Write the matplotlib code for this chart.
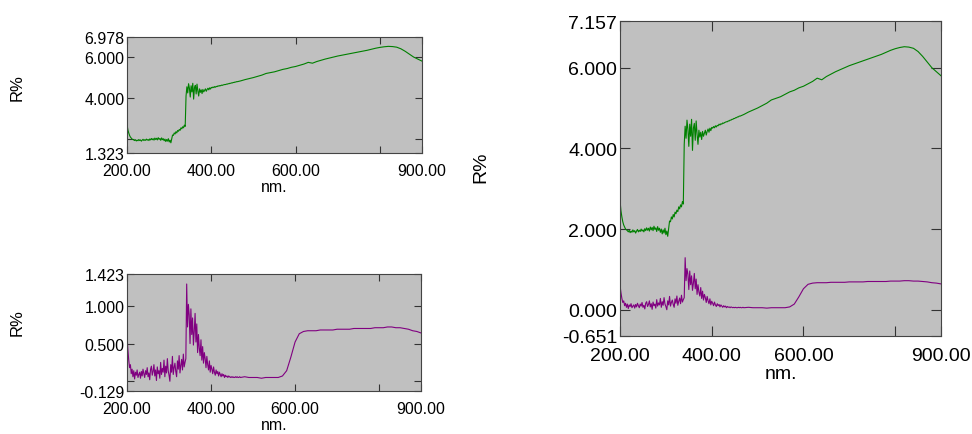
import numpy as np
import matplotlib
matplotlib.use("Agg")
import matplotlib.pyplot as plt

plt.rcParams['font.family'] = ['Liberation Sans', 'DejaVu Sans']

# wavelength grid (nm): fine steps in the noisy UV part, coarser after
wavelength = np.concatenate([np.arange(200, 471, 2), np.arange(480, 901, 10)])

# green curve (R%)
green = [
    2.70, 2.45, 2.30, 2.18, 2.10, 2.05, 2.00, 1.98,
    1.96, 1.93, 1.97, 1.91, 1.95, 1.92, 1.98, 1.93, 1.96, 1.90, 1.95, 1.99,
    1.93, 1.97, 1.94, 2.00, 1.95, 1.98, 1.93, 2.01, 1.96, 2.03, 1.97, 2.02,
    1.95, 2.05, 1.98, 2.04, 1.96, 2.07, 1.99, 2.03, 1.94, 2.06, 1.97, 2.02,
    1.92, 2.00, 1.88, 1.98, 1.90, 2.02, 1.86, 1.95,
    1.82, 2.00, 2.20, 2.18, 2.30, 2.25, 2.36, 2.30, 2.42, 2.38, 2.47, 2.43,
    2.55, 2.50, 2.60, 2.55, 2.68, 2.62,
    4.10, 4.55, 4.25, 4.70, 4.48, 4.05, 4.60, 4.30, 4.72, 3.95, 4.50, 4.62,
    4.20, 4.68, 4.35, 4.10, 4.45, 4.28, 4.40, 4.22, 4.42, 4.30, 4.38, 4.45,
    4.33, 4.42, 4.48, 4.40, 4.50, 4.44, 4.52,
    4.50, 4.54, 4.51, 4.56, 4.53, 4.57, 4.56, 4.60, 4.58, 4.61, 4.60, 4.63,
    4.62, 4.64, 4.65, 4.66, 4.66, 4.68, 4.68, 4.70, 4.70, 4.72, 4.72, 4.74,
    4.74, 4.76, 4.76, 4.78, 4.78, 4.80, 4.80, 4.81, 4.82, 4.83, 4.84,
    4.90, 4.95, 5.00, 5.06, 5.12, 5.20, 5.24, 5.28, 5.34, 5.40, 5.44, 5.50,
    5.54, 5.60, 5.66, 5.74, 5.70, 5.78, 5.84, 5.90, 5.95, 6.00, 6.05, 6.09,
    6.13, 6.17, 6.21, 6.25, 6.29, 6.33, 6.38, 6.43, 6.47, 6.50, 6.52, 6.51,
    6.48, 6.40, 6.28, 6.14, 6.00, 5.90, 5.80,
]

# purple curve (R%)
purple = [
    0.60, 0.42, 0.28, 0.18, 0.22, 0.10, 0.16, 0.06, 0.14, 0.03, 0.12, 0.08,
    0.15, 0.05, 0.09, 0.12, 0.04, 0.13, 0.07, 0.16, 0.10, 0.05, 0.14, 0.09,
    0.18, 0.06, 0.11, 0.02, 0.16, 0.20, 0.08, 0.13, 0.22, 0.07, 0.15, 0.01,
    0.19, 0.10, 0.14, 0.04, 0.25, 0.09, 0.17, 0.12, 0.28, 0.06, 0.20, 0.11,
    0.30, 0.14, 0.08, 0.00, 0.22, 0.12, 0.33, 0.09, 0.18, 0.24, 0.13, 0.06,
    0.27, 0.16, 0.34, 0.11, 0.21, 0.29, 0.15, 0.36, 0.19, 0.25,
    0.30, 1.29, 0.72, 1.02, 0.88, 0.50, 0.96, 0.62, 0.84, 0.48, 0.66, 0.90,
    0.52, 0.76, 0.38, 0.62, 0.44, 0.34, 0.55, 0.28, 0.46, 0.24, 0.38, 0.30,
    0.18, 0.33, 0.22, 0.15, 0.27, 0.12, 0.21, 0.16, 0.10, 0.19, 0.12, 0.08,
    0.15, 0.10, 0.13, 0.07, 0.12, 0.09, 0.06, 0.10, 0.07, 0.09, 0.05, 0.08,
    0.06, 0.07, 0.05, 0.07, 0.06, 0.05, 0.06, 0.05, 0.06, 0.05, 0.05, 0.06,
    0.05, 0.06, 0.05, 0.05, 0.06, 0.05,
    0.06, 0.05, 0.05, 0.05, 0.04, 0.05, 0.05, 0.05, 0.05, 0.07, 0.14, 0.32,
    0.52, 0.63, 0.66, 0.67, 0.67, 0.67, 0.68, 0.68, 0.68, 0.68, 0.69, 0.69,
    0.69, 0.69, 0.70, 0.70, 0.70, 0.70, 0.70, 0.71, 0.71, 0.71, 0.72, 0.72,
    0.71, 0.71, 0.70, 0.69, 0.67, 0.66, 0.64,
]

x_ticks = [200, 400, 600, 800, 900]
x_labels = ['200.00', '400.00', '600.00', '', '900.00']

GREEN = '#008000'
PURPLE = '#800080'
BG = '#c0c0c0'


def setup_axes(ax, ylim, yticks, ylabels, fs, tick_len, xpad):
    ax.set_facecolor(BG)
    ax.set_xlim(200, 900)
    ax.set_ylim(*ylim)
    ax.set_xticks(x_ticks)
    ax.set_xticklabels(x_labels)
    ax.set_yticks(yticks)
    ax.set_yticklabels(ylabels)
    ax.tick_params(direction='in', top=True, right=True, length=tick_len,
                   width=0.8, labelsize=fs, colors='#333333', labelcolor='black')
    ax.tick_params(axis='x', pad=xpad)
    ax.tick_params(axis='y', pad=2)
    for s in ax.spines.values():
        s.set_color('#444444')
        s.set_linewidth(0.8)
    ax.set_xlabel('nm.', fontsize=fs, labelpad=1)


fig = plt.figure(figsize=(9.72, 4.35), dpi=100)

ax1 = fig.add_axes([0.1307, 0.646, 0.3035, 0.2667])
ax1.plot(wavelength, green, color=GREEN, lw=0.8)
setup_axes(ax1, (1.323, 6.978), [1.323, 2, 4, 6, 6.978],
           ['1.323', '', '4.000', '6.000', '6.978'], 11.5, 5, 7)

ax2 = fig.add_axes([0.1307, 0.0989, 0.3025, 0.269])
ax2.plot(wavelength, purple, color=PURPLE, lw=0.8)
setup_axes(ax2, (-0.129, 1.423), [-0.129, 0, 0.5, 1.0, 1.423],
           ['-0.129', '', '0.500', '1.000', '1.423'], 11.5, 5, 7)

ax3 = fig.add_axes([0.6379, 0.2253, 0.3302, 0.7241])
ax3.plot(wavelength, green, color=GREEN, lw=0.8)
ax3.plot(wavelength, purple, color=PURPLE, lw=0.8)
setup_axes(ax3, (-0.651, 7.157), [-0.651, 0, 2, 4, 6, 7.157],
           ['-0.651', '0.000', '2.000', '4.000', '6.000', '7.157'], 14, 7, 8)

fig.text(17 / 972, 1 - 88 / 435, 'R%', rotation=90, ha='center', va='center', fontsize=12)
fig.text(17 / 972, 1 - 323 / 435, 'R%', rotation=90, ha='center', va='center', fontsize=12)
fig.text(481 / 972, 1 - 167 / 435, 'R%', rotation=90, ha='center', va='center', fontsize=14)

fig.savefig('out.png', dpi=100)
